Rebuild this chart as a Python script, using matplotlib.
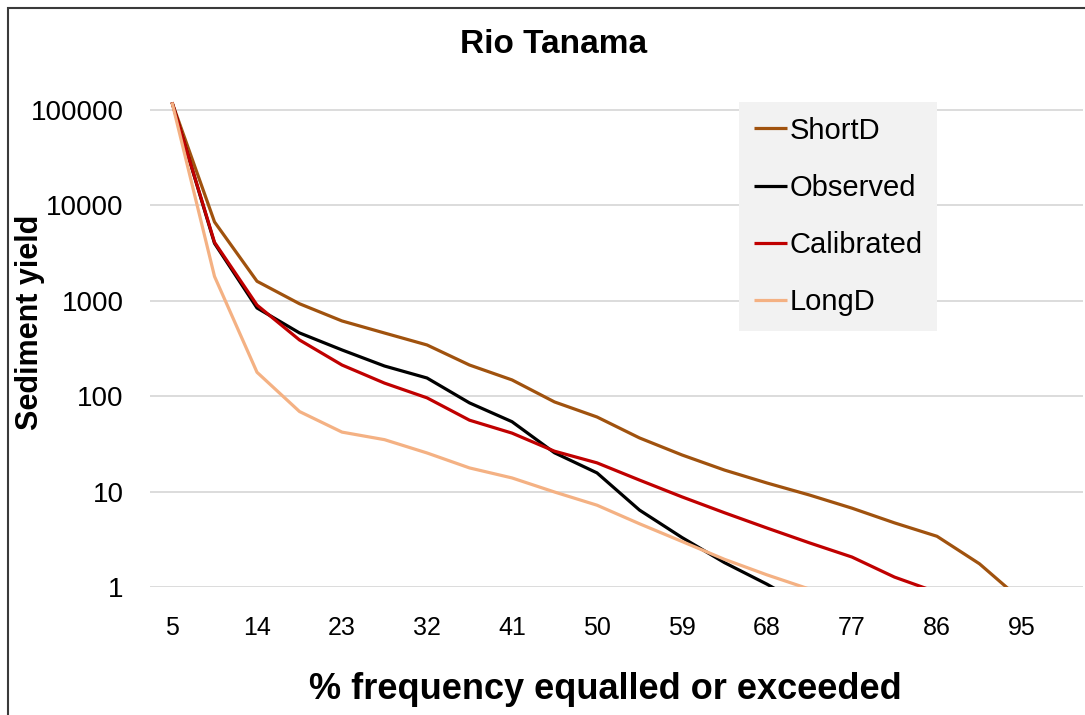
import numpy as np
import matplotlib
matplotlib.use("Agg")
import matplotlib.pyplot as plt
from matplotlib.patches import Rectangle

plt.rcParams["font.family"] = ["Liberation Sans", "DejaVu Sans"]

# Exceedance frequency (%) for each duration-curve point
freq = [5, 9.5, 14, 18.5, 23, 27.5, 32, 36.5, 41, 45.5, 50,
        54.5, 59, 63.5, 68, 72.5, 77, 81.5, 86, 90.5, 95]
tick_freq = [5, 14, 23, 32, 41, 50, 59, 68, 77, 86, 95]

nan = np.nan
short_d = [120000, 6700, 1600, 930, 614, 459, 344, 212, 148, 87, 60.5,
           36.5, 24.2, 16.8, 12.3, 9.2, 6.7, 4.7, 3.4, 1.75, 0.72]
observed = [120000, 4000, 840, 460, 305, 207, 155, 85, 54, 25.5, 15.7,
            6.4, 3.3, 1.8, 1.07, 0.6, nan, nan, nan, nan, nan]
calibrated = [120000, 4100, 900, 388, 212, 137, 96, 56, 41, 26.5, 20,
              13.2, 8.8, 6.0, 4.15, 2.9, 2.06, 1.27, 0.88, nan, nan]
long_d = [120000, 1800, 178, 69, 42, 35, 25.4, 17.7, 13.9, 9.9, 7.2,
          4.6, 3.0, 1.95, 1.34, 0.95, nan, nan, nan, nan, nan]

series = [
    ("ShortD", short_d, "#A0520E"),
    ("Observed", observed, "#000000"),
    ("Calibrated", calibrated, "#C00000"),
    ("LongD", long_d, "#F4B183"),
]

W, H = 1085, 715
fig = plt.figure(figsize=(W / 100, H / 100), dpi=100)
ax = fig.add_axes([150 / W, 128 / H, (1083 - 150) / W, (587 - 100) / H])

for name, vals, color in series:
    ax.plot(freq, np.array(vals, dtype=float), color=color, lw=2.3,
            label=name, solid_joinstyle="round", solid_capstyle="butt")

ax.set_yscale("log")
ax.set_ylim(1, 127000)
ax.set_xlim(2.67, 101.46)
ax.set_yticks([1, 10, 100, 1000, 10000, 100000])
ax.set_yticklabels(["1", "10", "100", "1000", "10000", "100000"])
ax.yaxis.set_minor_locator(matplotlib.ticker.NullLocator())
ax.set_xticks(tick_freq)
ax.set_xticklabels([str(t) for t in tick_freq])
ax.grid(axis="y", color="#D9D9D9", lw=1.3)
ax.set_axisbelow(True)
for s in ax.spines.values():
    s.set_visible(False)
ax.tick_params(axis="both", length=0)
ax.tick_params(axis="y", labelsize=20, pad=19)
ax.tick_params(axis="x", labelsize=18, pad=21)

leg = ax.legend(loc="upper left", bbox_to_anchor=(739 / W, 1 - 102 / H),
                bbox_transform=fig.transFigure, fontsize=21,
                handlelength=1.15, handletextpad=0.08, labelspacing=1.0,
                borderpad=0.5, borderaxespad=0, frameon=True,
                fancybox=False)
leg.get_frame().set_facecolor("#F2F2F2")
leg.get_frame().set_edgecolor("none")
leg.get_frame().set_alpha(1)

fig.text(554 / W, 1 - 53 / H, "Rio Tanama", ha="center", va="baseline",
         fontsize=24, fontweight="bold")
fig.text(605 / W, 1 - 699 / H, "% frequency equalled or exceeded",
         ha="center", va="baseline", fontsize=26, fontweight="bold")
fig.text(30 / W, 1 - 322 / H, "Sediment yield", ha="center", va="center",
         rotation=90, fontsize=22, fontweight="bold")

# Outer chart border
fig.add_artist(Rectangle((8 / W, -0.1), 1.2, (707 / H) + 0.1,
                         transform=fig.transFigure, fill=False,
                         lw=1.5, ec="#3A3A3A"))

fig.savefig("out.png", dpi=100, facecolor="white")
